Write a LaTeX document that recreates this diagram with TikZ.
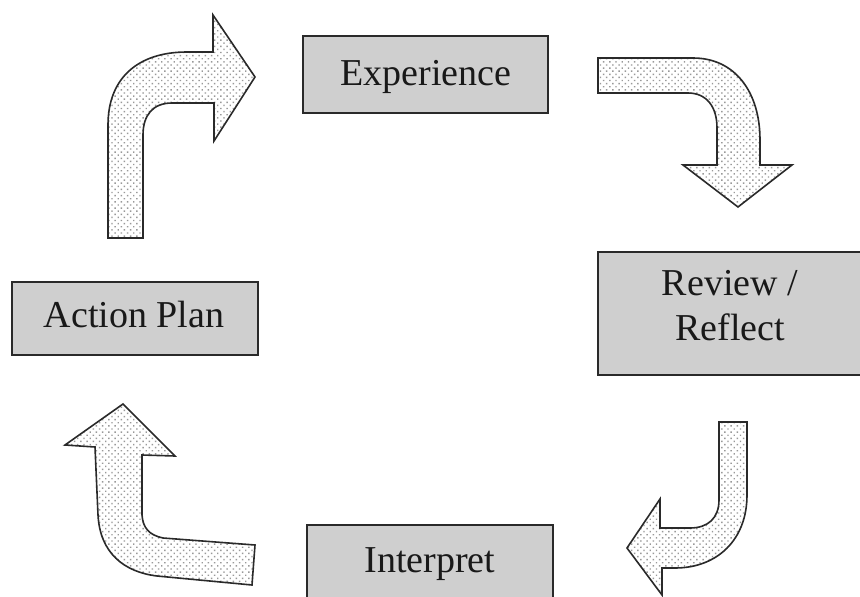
\documentclass[tikz,border=0pt]{standalone}
\usepackage{fontspec}
\setmainfont{Liberation Serif}
\usetikzlibrary{patterns.meta}
\definecolor{boxgray}{HTML}{CFCFCF}
\definecolor{edge}{HTML}{2A2A2A}
\begin{document}
\begin{tikzpicture}[x=1pt,y=-1pt,
  stagebox/.style={draw=edge, line width=1.6pt, fill=boxgray, inner sep=0pt},
  label/.style={anchor=base, inner sep=0pt, align=center,
    font=\fontsize{38}{45}\selectfont, text=black!90},
  blockarrow/.style={draw=edge, line width=1.6pt, line join=miter,
    preaction={fill=white},
    pattern={Dots[distance=4.4pt, angle=45, radius=1pt]},
    pattern color=gray!80}]
\useasboundingbox (0,0) rectangle (860,597);
\clip (0,0) rectangle (860,597);

% stage boxes
\node[stagebox, minimum width=245pt, minimum height=77pt] (expbox) at (425.5,74.5) {};
\node[stagebox, minimum width=276pt, minimum height=123pt] (revbox) at (736,313.5) {};
\node[stagebox, minimum width=246pt, minimum height=73pt] (actbox) at (135,318.5) {};
\node[stagebox, minimum width=246pt, minimum height=90pt] (intbox) at (430,570) {};

% stage names (base anchor sits on the last line)
\node[label] (exptext) at (426,85) {Experience};
\node[label] (revtext) at (730,340) {Review /\\Reflect};
\node[label] (acttext) at (134,327) {Action Plan};
\node[label] (inttext) at (430,572) {Interpret};

% Action Plan -> Experience
\draw[blockarrow] (108,238) -- (108,125)
  .. controls (108,78) and (138,52) .. (187,52) -- (213,52) -- (213,15)
  -- (255,77) -- (214,141) -- (214,103) -- (172,103)
  .. controls (153,103) and (143,115) .. (143,135) -- (143,238) -- cycle;

% Experience -> Review / Reflect
\draw[blockarrow] (598,58) -- (693,58)
  .. controls (735,58) and (760,92) .. (760,140) -- (760,165) -- (792,165)
  -- (738,207) -- (683,165) -- (717,165) -- (717,128)
  .. controls (717,106) and (706,93) .. (688,93) -- (598,93) -- cycle;

% Review / Reflect -> Interpret
\draw[blockarrow] (719,422) -- (747,422) -- (747,495)
  .. controls (747,540) and (717,568) .. (675,568) -- (662,568) -- (662,595)
  -- (627,548) -- (660,499) -- (660,528) -- (690,528)
  .. controls (708,528) and (719,518) .. (719,500) -- cycle;

% Interpret -> Action Plan
\draw[blockarrow] (255,545) -- (252,585) -- (157,576)
  .. controls (124,572) and (100,553) .. (98,515) -- (95,447) -- (65,445)
  -- (123,404) -- (175,456) -- (142,455) -- (142,515)
  .. controls (143,528) and (149,535) .. (163,538) -- cycle;
\end{tikzpicture}
\end{document}
